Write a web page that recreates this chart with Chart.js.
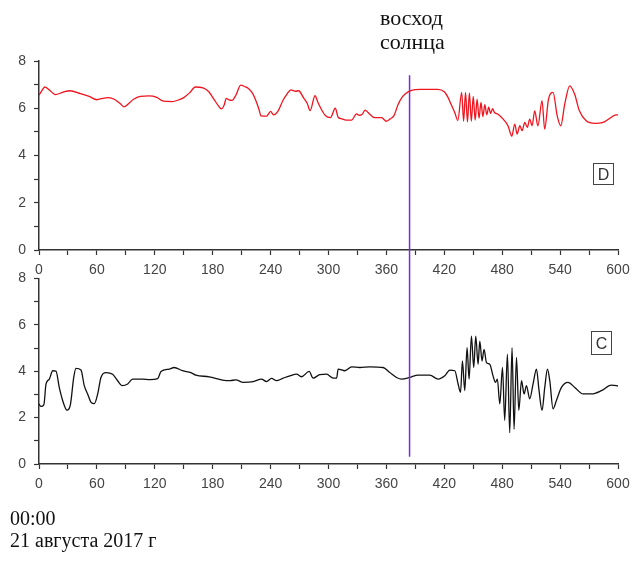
<!DOCTYPE html>
<html>
<head>
<meta charset="utf-8">
<script src="https://cdn.jsdelivr.net/npm/chart.js@4"></script>
<style>
  body { margin: 0; background: #fff; }
  #wrap { position: relative; width: 634px; height: 564px; overflow: hidden; background: #fff; }
  canvas { position: absolute; left: 0; }
  .note { position: absolute; font-family: "Liberation Serif", serif; font-size: 20px; line-height: 22px; color: #111; white-space: nowrap; }
  .tag { position: absolute; font-family: "Liberation Sans", sans-serif; font-size: 16px; line-height: 22px; color: #333;
         border: 1px solid #444; width: 21px; height: 22px; text-align: center; box-sizing: border-box; }
</style>
</head>
<body>
<div id="wrap">
  <canvas id="bottomChart" width="634" height="230" style="top:262px"></canvas>
  <canvas id="topChart" width="634" height="564" style="top:0"></canvas>
  <div class="note" style="left:380px; top:6px; font-size:22px; line-height:24px">восход<br>солнца</div>
  <div class="tag" style="left:593px; top:163px">D</div>
  <div class="tag" style="left:591px; top:331px; height:24px; line-height:24px">C</div>
  <div class="note" style="left:10px; top:507px">00:00<br>21 августа 2017 г</div>
</div>
<script>
// minutes from 00:00
const dTime = [0, 3, 6, 10, 17, 25, 32, 43, 52, 60, 66, 72, 78, 84, 88, 93, 98, 105, 114, 122,
  129, 138, 145, 150, 156, 162, 170, 176, 181, 186, 189, 192, 194, 197, 200, 204, 209, 213, 217, 221,
  225, 228, 230, 236, 240, 243, 248, 253, 257, 261, 266, 269, 274, 278, 281, 286, 289, 292, 297, 302,
  307, 310, 314, 318, 324, 329, 332, 335, 338, 341, 344, 348, 355, 360, 364, 368, 372, 376, 380, 386,
  395, 405, 413, 420, 424, 427, 431, 434, 438, 440, 442, 444, 446, 448, 450, 452, 454, 456, 458, 460,
  462, 464, 466, 468, 470, 472, 475.7, 481, 486, 490, 493, 495.5, 498.3, 500.6, 503.4, 506, 508.5, 511, 513.7, 517,
  521.3, 524, 528, 532.7, 537, 540.7, 544.8, 550, 555, 560, 567, 576, 584.5, 591.4, 598, 600];
const dValues = [6.55, 6.75, 6.9, 6.8, 6.58, 6.68, 6.74, 6.62, 6.5, 6.36, 6.42, 6.45, 6.38, 6.2, 6.06, 6.2, 6.38, 6.5, 6.52, 6.46,
  6.3, 6.28, 6.36, 6.45, 6.65, 6.9, 6.86, 6.7, 6.4, 6.1, 5.97, 6.15, 6.42, 6.35, 6.33, 6.55, 6.98, 6.92, 6.84, 6.65,
  6.3, 5.95, 5.68, 5.67, 5.87, 5.72, 5.9, 6.35, 6.6, 6.78, 6.72, 6.74, 6.45, 6.2, 5.9, 6.53, 6.25, 6.0, 5.68, 5.6,
  6.0, 5.62, 5.55, 5.5, 5.5, 5.76, 5.7, 5.75, 5.92, 5.82, 5.7, 5.6, 5.6, 5.45, 5.55, 5.7, 6.15, 6.45, 6.62, 6.76,
  6.8, 6.8, 6.8, 6.7, 6.45, 6.17, 5.8, 5.48, 6.67, 5.45, 6.67, 5.42, 6.65, 5.45, 6.5, 5.5, 6.38, 5.58, 6.25, 5.65,
  6.15, 5.72, 6.05, 5.78, 5.98, 5.82, 5.75, 5.54, 5.26, 4.82, 5.33, 4.91, 5.26, 5.05, 5.4, 5.19, 5.54, 5.26, 5.89, 5.26,
  6.32, 5.12, 6.39, 6.67, 5.68, 5.26, 6.17, 6.95, 6.6, 5.89, 5.47, 5.36, 5.4, 5.57, 5.72, 5.72];

const cTime = [0, 2, 5, 7.3, 10.7, 14.2, 17.6, 21, 24.5, 29, 32.5, 36, 38.3, 43.5, 46.9, 50.4, 53.9, 57.3, 60.8, 64.2,
  69.4, 76.3, 81.5, 86, 91.9, 97, 107, 115, 123, 126.4, 135, 140, 148.8, 157.4, 162.6, 176.4, 190, 198, 204, 211.6,
  222, 230.6, 235.8, 241, 246, 253, 260, 267, 272, 280, 284, 291, 298, 305, 308.4, 310, 317, 324, 332.5, 342.8,
  356.6, 363.5, 370.5, 375.7, 384, 392.9, 405, 413.6, 420.5, 425.7, 430.9, 434.3, 436.8, 438.8, 441.2, 443.6, 445.7, 448.1, 450.5, 452.6,
  455, 456.8, 459.1, 461.2, 463.7, 467.1, 470.5, 473, 475, 477.5, 480.3, 482.6, 485.4, 487.8, 490.2, 492.3, 494.8, 497.2, 500, 502.7,
  505.1, 508.5, 512, 515.5, 518.2, 521.3, 524.1, 526.9, 529.3, 532.7, 536.2, 541.4, 548.2, 555.2, 563.8, 572.5, 582.8, 593, 598.3, 600];
const cValues = [2.59, 2.48, 2.55, 3.45, 3.66, 4.02, 4.0, 3.3, 2.74, 2.32, 2.55, 3.73, 4.12, 4.05, 3.38, 3.02, 2.66, 2.6, 3.02, 3.73,
  3.94, 3.87, 3.59, 3.38, 3.45, 3.66, 3.66, 3.64, 3.68, 3.99, 4.09, 4.16, 4.02, 3.94, 3.83, 3.76, 3.62, 3.59, 3.63, 3.52,
  3.55, 3.66, 3.55, 3.69, 3.59, 3.7, 3.8, 3.87, 3.76, 3.99, 3.7, 3.85, 3.87, 3.7, 3.7, 4.09, 4.02, 4.19, 4.16, 4.19,
  4.16, 3.94, 3.73, 3.66, 3.73, 3.83, 3.83, 3.66, 3.8, 4.05, 4.02, 3.45, 3.09, 4.44, 3.16, 5.01, 3.66, 5.51, 4.16, 5.51,
  4.3, 5.3, 4.44, 4.94, 4.37, 4.3, 3.8, 3.52, 3.66, 2.59, 4.16, 1.88, 4.73, 1.35, 5.01, 1.5, 4.59, 2.31, 3.59, 3.02,
  3.38, 2.81, 3.45, 4.09, 3.16, 2.31, 3.3, 4.09, 3.59, 2.38, 2.74, 3.3, 3.52, 3.3, 3.02, 3.02, 3.16, 3.4, 3.38, 3.36];

// sunrise marker, in the top panel's y units (runs down through the lower panel)
const sunriseTime = 384;
const sunriseSpan = [7.4, -8.75];

const xTicks = [0, 60, 120, 180, 240, 300, 360, 420, 480, 540, 600];
const yTicks = [0, 2, 4, 6, 8];

Chart.defaults.font.family = "'Liberation Sans', Arial, sans-serif";
Chart.defaults.font.size = 14;
Chart.defaults.color = '#444';

function toPoints(xs, ys) {
    return xs.map((x, i) => ({ x: x, y: ys[i] }));
}

function makeChart(id, points, color, extra, pad) {
    const datasets = [{
        data: points,
        borderColor: color,
        borderWidth: 1.3,
        pointRadius: 0,
        cubicInterpolationMode: 'monotone'
    }];
    if (extra) datasets.push(extra);
    return new Chart(document.getElementById(id), {
        type: 'line',
        data: { datasets: datasets },
        options: {
            responsive: false,
            animation: false,
            devicePixelRatio: 1,
            layout: { padding: pad },
            plugins: { legend: { display: false }, tooltip: { enabled: false } },
            scales: {
                x: {
                    type: 'linear', min: 0, max: 600,
                    // keep the plot edges fixed, labels may hang over
                    afterFit: (s) => { s.height = 25; s.paddingRight = 12; s.paddingLeft = 8; },
                    border: { color: '#333', width: 1.5 },
                    grid: { drawOnChartArea: false, tickLength: 5, color: '#333', tickWidth: 1.2 },
                    ticks: {
                        stepSize: 30, autoSkip: false, maxRotation: 0, padding: 7,
                        callback: (v) => xTicks.includes(v) ? v : ''
                    }
                },
                y: {
                    min: 0, max: 8,
                    afterFit: (s) => { s.width = 39; },
                    border: { color: '#333', width: 1.5 },
                    grid: { drawOnChartArea: false, tickLength: 5, color: '#333', tickWidth: 1.2 },
                    ticks: {
                        stepSize: 1, autoSkip: false, padding: 8,
                        callback: (v) => yTicks.includes(v) ? v : ''
                    }
                }
            }
        }
    });
}

const sunriseLine = {
    data: sunriseSpan.map(y => ({ x: sunriseTime, y: y })),
    borderColor: '#7a2ae6',
    borderWidth: 1.5,
    pointRadius: 0,
    clip: false
};

makeChart('bottomChart', toPoints(cTime, cValues), '#111', null, { left: 0, right: 16, top: 15, bottom: 3 });
makeChart('topChart', toPoints(dTime, dValues), '#f0141e', sunriseLine, { left: 0, right: 16, top: 61, bottom: 289 });
</script>
</body>
</html>
